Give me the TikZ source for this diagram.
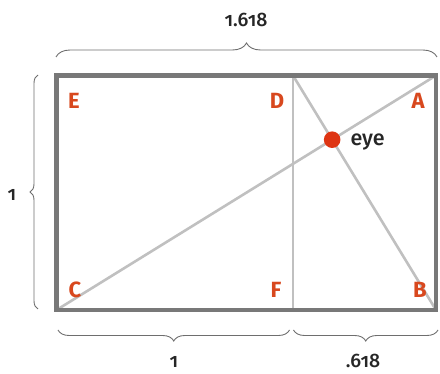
\documentclass[tikz,border=0pt]{standalone}
\usepackage{fontspec}
\setmainfont{Fira Sans}[Numbers=OldStyle]
\newfontfamily\medfont{Fira Sans Medium}[Numbers=OldStyle]
\usetikzlibrary{decorations.pathreplacing}
\definecolor{framegray}{RGB}{120,120,120}
\definecolor{linegray}{RGB}{192,192,192}
\definecolor{bracegray}{RGB}{110,110,110}
\definecolor{ptred}{RGB}{216,72,30}
\definecolor{eyered}{RGB}{222,52,18}
\tikzset{
  lbl/.style={text=ptred,font=\fontsize{22}{22}\selectfont\bfseries},
  num/.style={text=black!85,font=\medfont\fontsize{19.5}{19.5}\selectfont},
  brc/.style={decorate,decoration={brace,amplitude=#1},draw=bracegray,line width=0.9pt},
  brc/.default=10pt
}
\begin{document}
\begin{tikzpicture}[x=1pt,y=-1pt]
  \useasboundingbox (0,0) rectangle (440,374);
  % corners of the golden rectangle
  \coordinate (E) at (56.5,75.5);
  \coordinate (A) at (436,75.5);
  \coordinate (C) at (56.5,310);
  \coordinate (B) at (436,310);
  \coordinate (D) at (293,75.5);
  \coordinate (F) at (293,310);
  % division and diagonals
  \draw[linegray,line width=2.6pt] (D) -- (F);
  \draw[linegray,line width=2.6pt] (C) -- (A);
  \draw[linegray,line width=2.6pt] (D) -- (B);
  \draw[framegray,line width=4.5pt] (E) -- (A) -- (B) -- (C) -- cycle;
  % the eye
  \node[circle,fill=eyered,inner sep=0pt,minimum size=16.6pt] (eye)
    at (intersection of C--A and D--B) {};
  \node[text=black!85,font=\medfont\fontsize{21.5}{21.5}\selectfont,anchor=west] (eyetext) at (347,142) {eye};
  % letters
  \node[lbl] (lE) at (74,101) {E};
  \node[lbl] (lD) at (277,101) {D};
  \node[lbl] (lA) at (418,101) {A};
  \node[lbl] (lC) at (75,290) {C};
  \node[lbl] (lF) at (276,290) {F};
  \node[lbl] (lB) at (420,290) {B};
  % braces
  \coordinate (tl) at (56,57);
  \coordinate (tr) at (437,57);
  \draw[brc=14pt] (tl) -- (tr);
  \node[num] (wtop) at (246,20) {1.618};
  \coordinate (lb) at (38,309);
  \coordinate (lt) at (38,75);
  \draw[brc=8pt] (lb) -- (lt);
  \node[num] (hleft) at (12,195) {1};
  \coordinate (b1) at (58,330);
  \coordinate (b2) at (289.5,330);
  \coordinate (b3) at (293.5,330);
  \coordinate (b4) at (438,330);
  \draw[brc=11pt] (b2) -- (b1);
  \draw[brc=11pt] (b4) -- (b3);
  \node[num] (wone) at (174,362) {1};
  \node[num] (wgold) at (363,361) {.618};
\end{tikzpicture}
\end{document}
